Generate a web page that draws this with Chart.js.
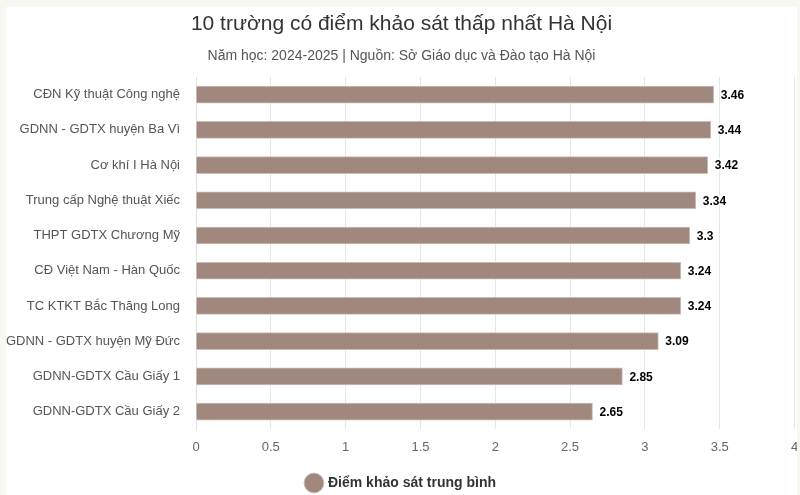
<!DOCTYPE html>
<html>
<head>
<meta charset="utf-8">
<script src="https://cdn.jsdelivr.net/npm/chart.js@4.4.0/dist/chart.umd.min.js"></script>
<style>
html,body{margin:0;padding:0;background:#f9f7f2;}
#wrap{position:absolute;left:6px;top:7px;width:791px;height:488px;background:#fff;}
</style>
</head>
<body>
<div id="wrap"><canvas id="c"></canvas></div>
<script>
const categories = [
  "CĐN Kỹ thuật Công nghệ",
  "GDNN - GDTX huyện Ba Vì",
  "Cơ khí I Hà Nội",
  "Trung cấp Nghệ thuật Xiếc",
  "THPT GDTX Chương Mỹ",
  "CĐ Việt Nam - Hàn Quốc",
  "TC KTKT Bắc Thăng Long",
  "GDNN - GDTX huyện Mỹ Đức",
  "GDNN-GDTX Cầu Giấy 1",
  "GDNN-GDTX Cầu Giấy 2"
];
const scores = [3.46, 3.44, 3.42, 3.34, 3.3, 3.24, 3.24, 3.09, 2.85, 2.65];
const seriesName = "Điểm khảo sát trung bình";
const titleText = "10 trường có điểm khảo sát thấp nhất Hà Nội";
const subtitleText = "Năm học: 2024-2025 | Nguồn: Sở Giáo dục và Đào tạo Hà Nội";

const FONT = "'Liberation Sans', Arial, sans-serif";

const valueLabels = {
  id: 'valueLabels',
  afterDatasetsDraw(chart) {
    const ctx = chart.ctx;
    const meta = chart.getDatasetMeta(0);
    ctx.save();
    ctx.font = "bold 12px " + FONT;
    ctx.textAlign = 'left';
    ctx.textBaseline = 'middle';
    ctx.lineJoin = 'round';
    meta.data.forEach((el, i) => {
      const v = chart.data.datasets[0].data[i];
      const x = el.x + 7, y = el.y + 1;
      ctx.strokeStyle = '#fff';
      ctx.lineWidth = 3;
      ctx.strokeText(String(v), x, y);
      ctx.fillStyle = '#000';
      ctx.fillText(String(v), x, y);
    });
    ctx.restore();
  }
};

new Chart(document.getElementById('c'), {
  type: 'bar',
  data: {
    labels: categories,
    datasets: [{
      label: seriesName,
      data: scores,
      backgroundColor: '#a1887f',
      borderColor: '#cbbdb7',
      borderWidth: 1,
      barThickness: 17
    }]
  },
  options: {
    indexAxis: 'y',
    responsive: true,
    maintainAspectRatio: false,
    animation: false,
    layout: { padding: { left: 0, right: 0, top: 0, bottom: -5 } },
    scales: {
      x: {
        min: 0, max: 4,
        ticks: { stepSize: 0.5, color: '#666', font: { family: FONT, size: 13 }, padding: 10,
                 callback: v => String(v) },
        grid: { color: '#e6e6e6', drawTicks: false },
        border: { display: false },
        title: { display: true, text: '', font: { size: 1 }, padding: { top: 0, bottom: 3 } },
        afterFit(scale) { scale.paddingRight = 2.5; }
      },
      y: {
        ticks: { color: '#555', font: { family: FONT, size: 13 }, padding: 8 },
        grid: { display: false },
        border: { display: true, color: '#e0e0e0' },
        afterFit(scale) { scale.width = 190; }
      }
    },
    plugins: {
      title: {
        display: true, text: titleText, color: '#333',
        font: { family: FONT, size: 21, weight: 'normal' },
        padding: { top: 5, bottom: 4 }
      },
      subtitle: {
        display: true, text: subtitleText, color: '#555',
        font: { family: FONT, size: 14, weight: 'normal' },
        padding: { top: 7, bottom: 12 }
      },
      legend: {
        position: 'bottom',
        labels: {
          usePointStyle: true, pointStyle: 'circle', boxWidth: 14, boxHeight: 14,
          color: '#333', font: { family: FONT, size: 14, weight: 'bold' }, padding: 7
        }
      },
      tooltip: { enabled: false }
    }
  },
  plugins: [valueLabels]
});
</script>
</body>
</html>
